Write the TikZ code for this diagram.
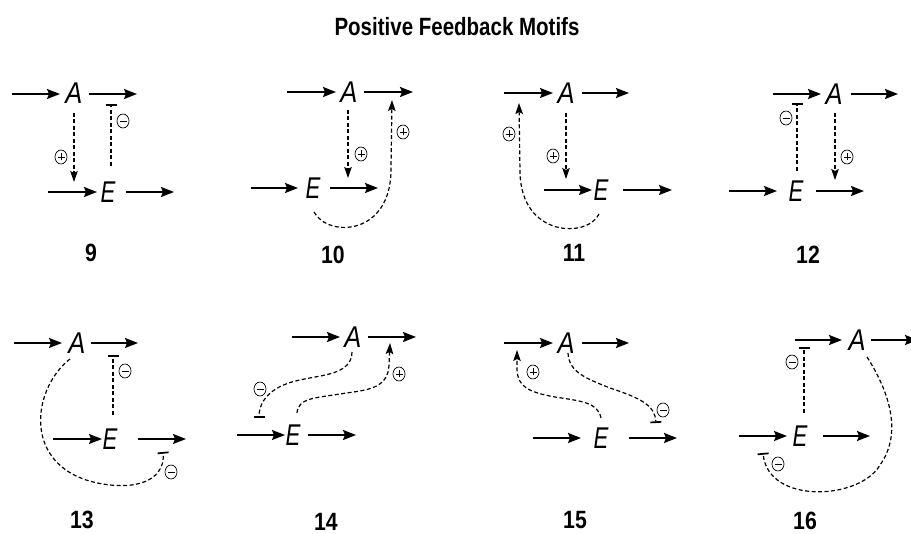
\documentclass[tikz,border=0pt]{standalone}
\usepackage{fontspec}
\setmainfont{Liberation Sans}
\usetikzlibrary{arrows.meta,shapes.geometric}
\newcommand{\motifA}{\scalebox{0.85}[1]{\fontsize{30}{30}\selectfont\itshape A}}
\newcommand{\motifE}{\scalebox{0.74}[1]{\fontsize{30}{30}\selectfont\itshape E}}
\newcommand{\motifnum}[1]{\scalebox{0.85}[1]{\fontsize{25}{25}\selectfont\bfseries #1}}
\begin{document}
\begin{tikzpicture}[x=1pt,y=-1pt,
  solidarrow/.style={line width=1.8pt,-{Stealth[length=13pt,width=10pt,inset=2pt]}},
  actarrow/.style={line width=1.2pt,dash pattern=on 4pt off 2.5pt,-{Stealth[length=11pt,width=7.5pt,inset=2pt]}},
  inharrow/.style={line width=1.2pt,dash pattern=on 4pt off 2.5pt,-{Bar[width=11pt,line width=1.7pt]}},
  letter/.style={inner sep=0pt},
  numlabel/.style={inner sep=0pt},
  signbase/.style={ellipse,draw,line width=0.7pt,minimum width=12pt,minimum height=14pt,inner sep=0pt},
  plusn/.style={signbase,path picture={\draw[line width=0.7pt] (path picture bounding box.center) +(-3.5pt,0) -- +(3.5pt,0) (path picture bounding box.center) +(0,-3.5pt) -- +(0,3.5pt);}},
  minusn/.style={signbase,path picture={\draw[line width=0.9pt] (path picture bounding box.center) +(-3.5pt,0) -- +(3.5pt,0);}}]
\useasboundingbox (0,0) rectangle (911,534);
\node (title) at (457,27) {\scalebox{0.82}[1]{\fontsize{25}{25}\selectfont\bfseries Positive Feedback Motifs}};

% ---------- 9 ----------
\node[letter] (A9) at (74,93) {\motifA};
\node[letter] (E9) at (108,192) {\motifE};
\draw[solidarrow] (12,94) coordinate (p9a) -- (60,94) coordinate (p9b);
\draw[solidarrow] (89,94) coordinate (p9c) -- (137,94) coordinate (p9d);
\draw[solidarrow] (48,192) coordinate (p9e) -- (97,192) coordinate (p9f);
\draw[solidarrow] (126,192) coordinate (p9g) -- (174,192) coordinate (p9h);
\draw[actarrow] (74,113) coordinate (p9i) -- (74,182) coordinate (p9j);
\draw[inharrow] (111,166) coordinate (p9k) -- (111,104) coordinate (p9l);
\node[plusn] (s9a) at (61,157) {};
\node[minusn] (s9b) at (123,121) {};
\node[numlabel] (n9) at (91,253) {\motifnum{9}};

% ---------- 10 ----------
\node[letter] (A10) at (349,92) {\motifA};
\node[letter] (E10) at (313,188) {\motifE};
\draw[solidarrow] (287,92) coordinate (p10a) -- (336,92) coordinate (p10b);
\draw[solidarrow] (364,92) coordinate (p10c) -- (413,92) coordinate (p10d);
\draw[solidarrow] (251,188) coordinate (p10e) -- (298,188) coordinate (p10f);
\draw[solidarrow] (330,188) coordinate (p10g) -- (378,188) coordinate (p10h);
\draw[actarrow] (348,110) coordinate (p10i) -- (348,178) coordinate (p10j);
\draw[actarrow] (314,212) coordinate (p10k) .. controls (328,238) and (392,236) .. (391,168) -- (392,100) coordinate (p10l);
\node[plusn] (s10a) at (361,154) {};
\node[plusn] (s10b) at (403,132) {};
\node[numlabel] (n10) at (333,255) {\motifnum{10}};

% ---------- 11 ----------
\node[letter] (A11) at (566,93) {\motifA};
\node[letter] (E11) at (601,190) {\motifE};
\draw[solidarrow] (504,93) coordinate (p11a) -- (553,93) coordinate (p11b);
\draw[solidarrow] (582,93) coordinate (p11c) -- (629,93) coordinate (p11d);
\draw[solidarrow] (544,190) coordinate (p11e) -- (592,190) coordinate (p11f);
\draw[solidarrow] (623,190) coordinate (p11g) -- (672,190) coordinate (p11h);
\draw[actarrow] (566,113) coordinate (p11i) -- (566,179) coordinate (p11j);
\draw[actarrow] (599,214) coordinate (p11k) .. controls (588,238) and (521,238) .. (520,172) -- (519,103) coordinate (p11l);
\node[plusn] (s11a) at (553,156) {};
\node[plusn] (s11b) at (509,134) {};
\node[numlabel] (n11) at (574,253) {\motifnum{11}};

% ---------- 12 ----------
\node[letter] (A12) at (834,94) {\motifA};
\node[letter] (E12) at (796,191) {\motifE};
\draw[solidarrow] (773,94) coordinate (p12a) -- (821,94) coordinate (p12b);
\draw[solidarrow] (851,94) coordinate (p12c) -- (898,94) coordinate (p12d);
\draw[solidarrow] (729,191) coordinate (p12e) -- (777,191) coordinate (p12f);
\draw[solidarrow] (816,191) coordinate (p12g) -- (864,191) coordinate (p12h);
\draw[inharrow] (797,171) coordinate (p12i) -- (797,103) coordinate (p12j);
\draw[actarrow] (835,113) coordinate (p12k) -- (835,180) coordinate (p12l);
\node[minusn] (s12a) at (786,118) {};
\node[plusn] (s12b) at (847,157) {};
\node[numlabel] (n12) at (808,255) {\motifnum{12}};

% ---------- 13 ----------
\node[letter] (A13) at (77,343) {\motifA};
\node[letter] (E13) at (110,439) {\motifE};
\draw[solidarrow] (14,343) coordinate (p13a) -- (62,343) coordinate (p13b);
\draw[solidarrow] (91,343) coordinate (p13c) -- (138,343) coordinate (p13d);
\draw[solidarrow] (53,439) coordinate (p13e) -- (102,439) coordinate (p13f);
\draw[solidarrow] (138,439) coordinate (p13g) -- (186,439) coordinate (p13h);
\draw[inharrow] (113,415) coordinate (p13i) -- (113,355) coordinate (p13j);
\draw[inharrow] (70,359) coordinate (p13k) .. controls (30,390) and (20,475) .. (110,485) .. controls (150,489) and (165,472) .. (163,452) coordinate (p13l);
\node[minusn] (s13a) at (125,371) {};
\node[minusn] (s13b) at (171,472) {};
\node[numlabel] (n13) at (82,520) {\motifnum{13}};

% ---------- 14 ----------
\node[letter] (A14) at (353,337) {\motifA};
\node[letter] (E14) at (293,435) {\motifE};
\draw[solidarrow] (292,337) coordinate (p14a) -- (340,337) coordinate (p14b);
\draw[solidarrow] (368,337) coordinate (p14c) -- (416,337) coordinate (p14d);
\draw[solidarrow] (237,435) coordinate (p14e) -- (285,435) coordinate (p14f);
\draw[solidarrow] (308,435) coordinate (p14g) -- (356,435) coordinate (p14h);
\draw[inharrow] (352,352) coordinate (p14i) .. controls (352,375) and (320,375) .. (300,380) .. controls (275,385) and (259,398) .. (259,418) coordinate (p14j);
\draw[actarrow] (297,413) coordinate (p14k) .. controls (298,398) and (315,398) .. (340,394) .. controls (365,390) and (388,390) .. (389,365) -- (390,343) coordinate (p14l);
\node[minusn] (s14a) at (260,389) {};
\node[plusn] (s14b) at (399,374) {};
\node[numlabel] (n14) at (326,522) {\motifnum{14}};

% ---------- 15 ----------
\node[letter] (A15) at (566,343) {\motifA};
\node[letter] (E15) at (601,438) {\motifE};
\draw[solidarrow] (504,343) coordinate (p15a) -- (553,343) coordinate (p15b);
\draw[solidarrow] (582,343) coordinate (p15c) -- (629,343) coordinate (p15d);
\draw[solidarrow] (533,438) coordinate (p15e) -- (581,438) coordinate (p15f);
\draw[solidarrow] (629,438) coordinate (p15g) -- (677,438) coordinate (p15h);
\draw[actarrow] (601,418) coordinate (p15i) .. controls (598,402) and (580,401) .. (555,397) .. controls (527,392) and (518,386) .. (517,370) -- (517,350) coordinate (p15j);
\draw[inharrow] (568,353) coordinate (p15k) .. controls (569,372) and (585,378) .. (610,388) .. controls (640,398) and (655,405) .. (656,423) coordinate (p15l);
\node[plusn] (s15a) at (533,372) {};
\node[minusn] (s15b) at (663,410) {};
\node[numlabel] (n15) at (575,520) {\motifnum{15}};

% ---------- 16 ----------
\node[letter] (A16) at (857,340) {\motifA};
\node[letter] (E16) at (800,436) {\motifE};
\draw[solidarrow] (795,340) coordinate (p16a) -- (842,340) coordinate (p16b);
\draw[solidarrow] (871,340) coordinate (p16c) -- (918,340) coordinate (p16d);
\draw[solidarrow] (739,436) coordinate (p16e) -- (787,436) coordinate (p16f);
\draw[solidarrow] (823,436) coordinate (p16g) -- (870,436) coordinate (p16h);
\draw[inharrow] (804,413) coordinate (p16i) -- (804,347) coordinate (p16j);
\draw[inharrow] (867,357) coordinate (p16k) .. controls (885,385) and (905,430) .. (880,465) .. controls (860,500) and (768,505) .. (763,453) coordinate (p16l);
\node[minusn] (s16a) at (792,362) {};
\node[minusn] (s16b) at (778,464) {};
\node[numlabel] (n16) at (805,521) {\motifnum{16}};
\end{tikzpicture}
\end{document}
